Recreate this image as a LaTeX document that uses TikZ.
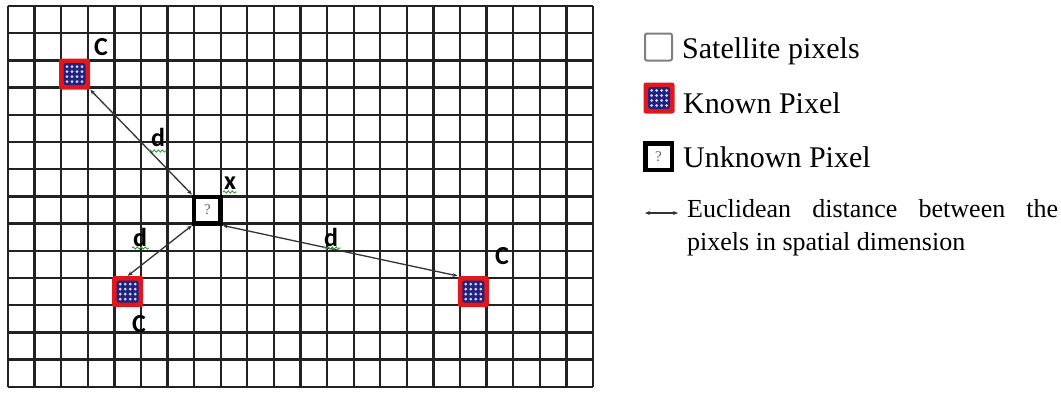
\documentclass[tikz,border=0pt]{standalone}
\usepackage{fontspec}
\setmainfont{Liberation Serif}
\newfontfamily\lblfont{Carlito}
\usetikzlibrary{arrows.meta,decorations.pathmorphing}
\definecolor{gridc}{HTML}{222222}
\definecolor{kred}{HTML}{E0181E}
\definecolor{kblue}{HTML}{22227E}
\definecolor{linkc}{HTML}{333333}
\definecolor{squig}{HTML}{3A9A3A}
\begin{document}
\begin{tikzpicture}[x=1pt,y=-1pt,
  known/.style={rectangle,fill=kred,rounded corners=2.5pt,minimum size=31pt,inner sep=0pt,
    path picture={
      \fill[kblue] ([shift={(-11,-11)}]path picture bounding box.center) rectangle +(22,22);
      \foreach \i in {0,...,3}{\foreach \j in {0,...,3}{
        \fill[white!85!blue] ([shift={(-7.5+5*\i,-7.5+5*\j)}]path picture bounding box.center) circle (1.5);}}
    }},
  unknown/.style={rectangle,draw=black,line width=4.5pt,fill=white,minimum size=26.5pt,inner sep=0pt,
    font=\fontsize{15}{15}\selectfont\color{black!60}},
  satbox/.style={rectangle,draw=black!50,line width=2pt,rounded corners=2pt,minimum size=27pt,inner sep=0pt},
  lbl/.style={font=\lblfont\bfseries\fontsize{26}{26}\selectfont,inner sep=0pt},
  link/.style={draw=linkc,line width=1.3pt,{Stealth[length=5pt,width=4pt]}-{Stealth[length=5pt,width=4pt]}},
  squiggle/.style={draw=squig,line width=0.9pt,decorate,decoration={snake,amplitude=1.1pt,segment length=4pt}},
  legtext/.style={anchor=base west,inner sep=0pt,font=\fontsize{30}{33}\selectfont},
  legsmall/.style={anchor=base west,inner sep=0pt,font=\fontsize{26}{33}\selectfont}
]
\useasboundingbox (0,0) rectangle (1061,392);
\fill[white] (0,0) rectangle (1061,392);

% pixel grid: 22 columns x 14 rows
\def\cw{26.59}
\def\ch{27.2}
\foreach \k in {0,...,22}{
  \draw[gridc,line width=2.3pt] (8+\k*\cw,6) -- (8+\k*\cw,386.8);}
\foreach \k in {0,...,14}{
  \draw[gridc,line width=2.3pt] (8,6+\k*\ch) -- (593,6+\k*\ch);}

% known and unknown pixels
\node[known] (k1) at (74.5,74) {};
\node[known] (k2) at (127.7,291.6) {};
\node[known] (k3) at (473.3,291.6) {};
\node[unknown] (u) at (207.4,210) {?};

% distances
\draw[link] (k1.south east) -- (u.north west);
\draw[link] (k2.north) -- (u.south west);
\draw[link] (u.south east) -- (k3.north west);

% labels
\node[lbl] (c1) at (101,47) {C};
\node[lbl] (c2) at (139,324) {C};
\node[lbl] (c3) at (502,256) {C};
\node[lbl] (d1) at (158,137) {d};
\node[lbl] (d2) at (140,237) {d};
\node[lbl] (d3) at (331,237) {d};
\node[lbl] (xl) at (230,183) {x};

% proofing marks under the labels
\draw[squiggle] ([shift={(-9,14)}]d1.center) -- ([shift={(9,14)}]d1.center);
\draw[squiggle] ([shift={(-8,11)}]d2.center) -- ([shift={(9,11)}]d2.center);
\draw[squiggle] ([shift={(-8,11)}]d3.center) -- ([shift={(10,11)}]d3.center);
\draw[squiggle] ([shift={(-7,9)}]xl.center) -- ([shift={(7,9)}]xl.center);

% legend
\node[satbox] (ls) at (658.5,47) {};
\node[legtext] (ts) at (682,58) {Satellite pixels};
\node[known] (lk) at (659,98) {};
\node[legtext] (tk) at (683,113) {Known Pixel};
\node[unknown] (lu) at (658.5,156.5) {?};
\node[legtext] (tu) at (683,167) {Unknown Pixel};
\coordinate (la) at (645,213);
\coordinate (lb) at (678,213);
\draw[link,line width=1.6pt] (la) -- (lb);
\node[legsmall] (te1) at (687,217) {\hbox to 371pt{Euclidean\hfill distance\hfill between\hfill the}};
\node[legsmall] (te2) at (687,250) {pixels in spatial dimension};
\end{tikzpicture}
\end{document}
